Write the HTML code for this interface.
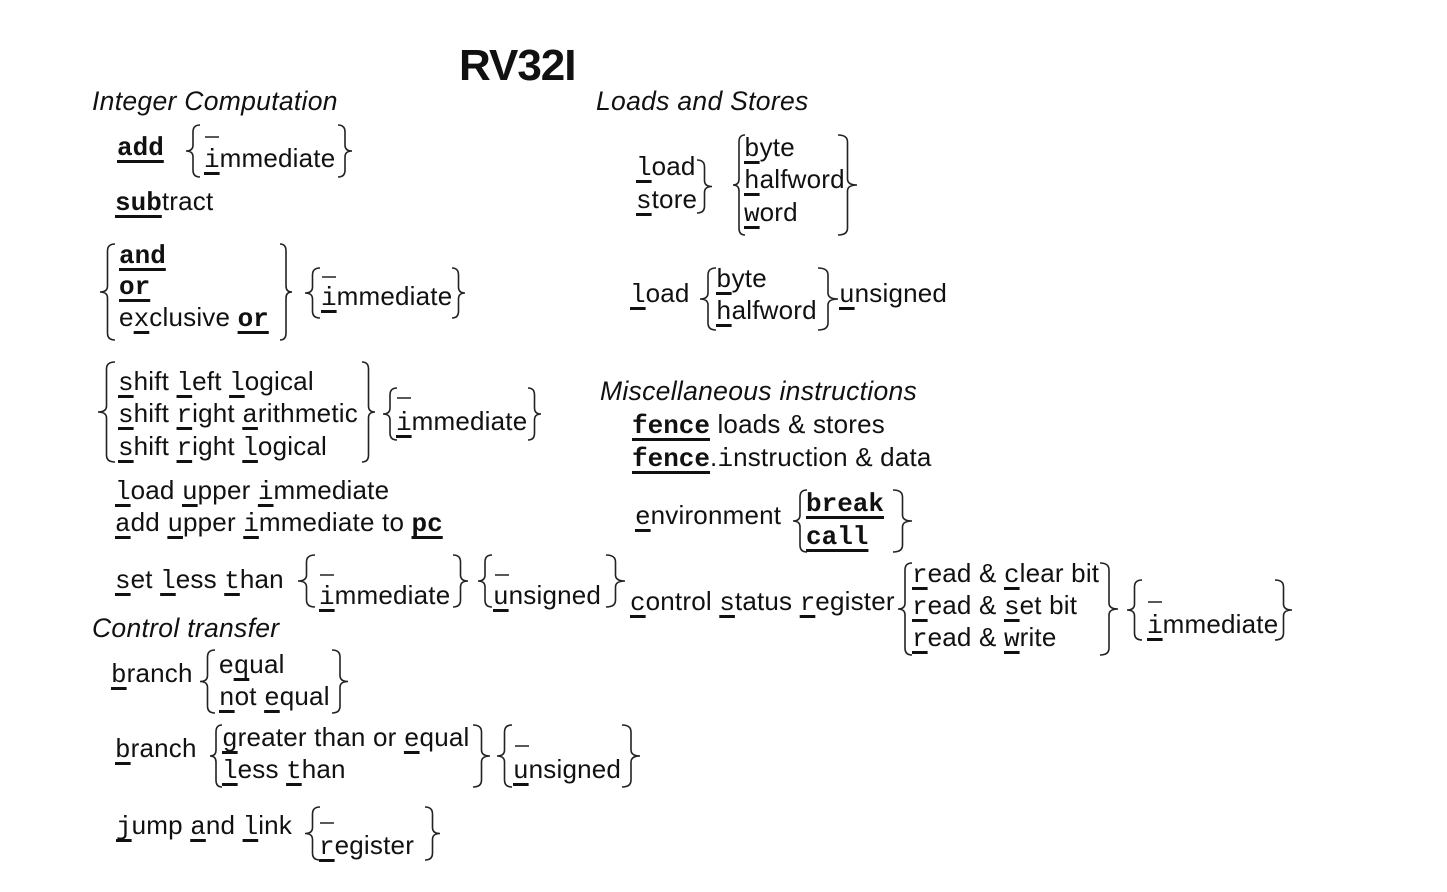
<!DOCTYPE html>
<html><head><meta charset="utf-8"><style>
body{margin:0;width:1447px;height:892px;background:#fff;position:relative;overflow:hidden;color:#111}
.t{position:absolute;font:26px "Liberation Sans",sans-serif;line-height:30px;white-space:nowrap;letter-spacing:0.2px}
.i{font-style:italic;font-size:26.5px;letter-spacing:0.3px}
m{font-family:"Liberation Mono",monospace;letter-spacing:0;text-decoration:underline;text-decoration-thickness:2.5px;text-underline-offset:5px}
b.k{font-family:"Liberation Mono",monospace;letter-spacing:0;text-decoration:underline;text-decoration-thickness:2.5px;text-underline-offset:5px}
svg{position:absolute;left:0;top:0}
</style></head><body>
<div class="t" style="left:459px;top:42px;font-size:44px;font-weight:bold;line-height:48px;letter-spacing:-1px">RV32I</div>
<div class="t i" style="left:92px;top:86px">Integer Computation</div>
<div class="t i" style="left:596px;top:86px">Loads and Stores</div>

<div class="t" style="left:117px;top:131px"><b class="k">add</b></div>
<div class="t" style="left:204px;top:143px"><m>i</m>mmediate</div>
<div class="t" style="left:115px;top:186px"><b class="k">sub</b>tract</div>

<div class="t" style="left:119px;top:239px"><b class="k">and</b></div>
<div class="t" style="left:119px;top:270px"><b class="k">or</b></div>
<div class="t" style="left:119px;top:302px">e<m>x</m>clusive <b class="k">or</b></div>
<div class="t" style="left:321px;top:281px"><m>i</m>mmediate</div>

<div class="t" style="left:118px;top:366px"><m>s</m>hift <m>l</m>eft <m>l</m>ogical</div>
<div class="t" style="left:118px;top:398px"><m>s</m>hift <m>r</m>ight <m>a</m>rithmetic</div>
<div class="t" style="left:118px;top:431px"><m>s</m>hift <m>r</m>ight <m>l</m>ogical</div>
<div class="t" style="left:396px;top:406px"><m>i</m>mmediate</div>

<div class="t" style="left:115px;top:475px"><m>l</m>oad <m>u</m>pper <m>i</m>mmediate</div>
<div class="t" style="left:115px;top:507px"><m>a</m>dd <m>u</m>pper <m>i</m>mmediate to <b class="k">pc</b></div>

<div class="t" style="left:115px;top:564px"><m>s</m>et <m>l</m>ess <m>t</m>han</div>
<div class="t" style="left:319px;top:580px"><m>i</m>mmediate</div>
<div class="t" style="left:493px;top:580px"><m>u</m>nsigned</div>

<div class="t i" style="left:92px;top:613px">Control transfer</div>
<div class="t" style="left:111px;top:658px"><m>b</m>ranch</div>
<div class="t" style="left:219px;top:649px">e<m>q</m>ual</div>
<div class="t" style="left:219px;top:681px"><m>n</m>ot <m>e</m>qual</div>
<div class="t" style="left:115px;top:733px"><m>b</m>ranch</div>
<div class="t" style="left:222px;top:722px"><m>g</m>reater than or <m>e</m>qual</div>
<div class="t" style="left:222px;top:754px"><m>l</m>ess <m>t</m>han</div>
<div class="t" style="left:513px;top:754px"><m>u</m>nsigned</div>
<div class="t" style="left:116px;top:810px"><m>j</m>ump <m>a</m>nd <m>l</m>ink</div>
<div class="t" style="left:319px;top:830px"><m>r</m>egister</div>

<div class="t" style="left:636px;top:151px"><m>l</m>oad</div>
<div class="t" style="left:636px;top:184px"><m>s</m>tore</div>
<div class="t" style="left:744px;top:132px"><m>b</m>yte</div>
<div class="t" style="left:744px;top:164px"><m>h</m>alfword</div>
<div class="t" style="left:744px;top:197px"><m>w</m>ord</div>
<div class="t" style="left:630px;top:278px"><m>l</m>oad</div>
<div class="t" style="left:716px;top:263px"><m>b</m>yte</div>
<div class="t" style="left:716px;top:295px"><m>h</m>alfword</div>
<div class="t" style="left:839px;top:278px"><m>u</m>nsigned</div>

<div class="t i" style="left:600px;top:376px">Miscellaneous instructions</div>
<div class="t" style="left:632px;top:409px"><b class="k">fence</b> loads &amp; stores</div>
<div class="t" style="left:632px;top:442px"><b class="k">fence</b>.<m style="text-decoration:none">i</m>nstruction &amp; data</div>
<div class="t" style="left:635px;top:500px"><m>e</m>nvironment</div>
<div class="t" style="left:806px;top:487px"><b class="k">break</b></div>
<div class="t" style="left:806px;top:520px"><b class="k">call</b></div>
<div class="t" style="left:630px;top:586px"><m>c</m>ontrol <m>s</m>tatus <m>r</m>egister</div>
<div class="t" style="left:912px;top:558px"><m>r</m>ead &amp; <m>c</m>lear bit</div>
<div class="t" style="left:912px;top:590px"><m>r</m>ead &amp; <m>s</m>et bit</div>
<div class="t" style="left:912px;top:622px"><m>r</m>ead &amp; <m>w</m>rite</div>
<div class="t" style="left:1147px;top:609px"><m>i</m>mmediate</div>

<svg width="1447" height="892" id="s" fill="none" stroke="#222" stroke-width="1.6"></svg>
<script>
var s=document.getElementById('s'),d='';
function L(x1,x2,y1,y2){var h=(x1+x2)/2,m=(y1+y2)/2;d+='M'+x2+' '+y1+'Q'+h+' '+y1+' '+h+' '+(y1+7)+'L'+h+' '+(m-6)+'Q'+h+' '+m+' '+x1+' '+m+'Q'+h+' '+m+' '+h+' '+(m+6)+'L'+h+' '+(y2-7)+'Q'+h+' '+y2+' '+x2+' '+y2;}
function R(x1,x2,y1,y2){var h=(x1+x2)/2,m=(y1+y2)/2;d+='M'+x1+' '+y1+'Q'+h+' '+y1+' '+h+' '+(y1+7)+'L'+h+' '+(m-6)+'Q'+h+' '+m+' '+x2+' '+m+'Q'+h+' '+m+' '+h+' '+(m+6)+'L'+h+' '+(y2-7)+'Q'+h+' '+y2+' '+x1+' '+y2;}
function B(x1,x2,y){d+='M'+x1+' '+y+'L'+x2+' '+y;}
L(186,200,125,177);R(338,352,125,177);B(205,219,137);
L(100,115,244,340);R(280,292,244,340);L(305,320,268,318);R(452,465,268,318);B(322,336,277);
L(98,115,362,462);R(362,375,362,462);L(383,397,388,440);R(528,541,388,440);B(397,411,398);
L(298,315,555,607);R(453,468,555,607);B(320,334,575);L(478,492,555,607);R(606,625,555,607);B(495,509,575);
L(200,215,650,713);R(332,348,650,713);
L(210,222,725,787);R(473,490,725,787);L(497,512,725,787);R(622,640,725,787);B(515,529,746);
L(305,320,807,860);R(425,440,807,860);B(320,334,823);
R(697,712,160,213);L(733,745,135,235);R(838,857,135,235);
L(700,716,268,330);R(818,838,268,330);
L(793,807,490,552);R(893,912,490,552);
L(898,912,563,655);R(1100,1118,563,655);L(1127,1142,580,640);R(1275,1292,580,640);B(1148,1162,602);
var p=document.createElementNS('http://www.w3.org/2000/svg','path');p.setAttribute('d',d);s.appendChild(p);
</script>
</body></html>
